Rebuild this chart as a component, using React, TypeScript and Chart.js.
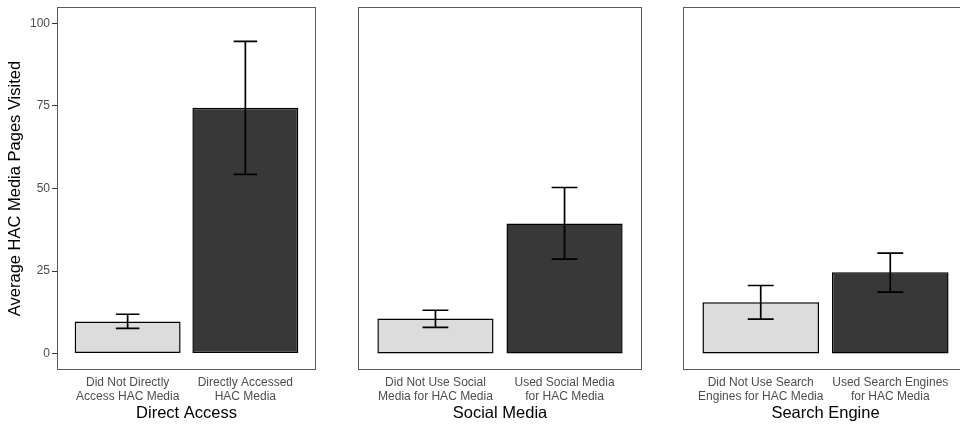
import React, { useEffect, useRef } from "react";
import { Chart, registerables } from "chart.js";

Chart.register(...registerables);

// Facet titles and two-line category labels
const facetTitles = ["Direct Access", "Social Media", "Search Engine"];
const directLabels = [["Did Not Directly", "Access HAC Media"], ["Directly Accessed", "HAC Media"]];
const socialLabels = [["Did Not Use Social", "Media for HAC Media"], ["Used Social Media", "for HAC Media"]];
const searchLabels = [["Did Not Use Search", "Engines for HAC Media"], ["Used Search Engines", "for HAC Media"]];

// Mean pages visited with error-bar bounds
const directMeans = [9.7, 74.5];
const directLower = [7.6, 54.3];
const directUpper = [11.9, 94.6];

const socialMeans = [10.6, 39.4];
const socialLower = [7.9, 28.6];
const socialUpper = [13.1, 50.3];

const searchMeans = [15.5, 24.6];
const searchLower = [10.4, 18.6];
const searchUpper = [20.6, 30.4];

const yTicks = [0, 25, 50, 75, 100];
const yTitle = "Average HAC Media Pages Visited";

const FONT = "'Liberation Sans', Arial, Helvetica, sans-serif";
const barColors = ["#DCDCDC", "#383838"];

type PanelProps = {
  left: number;
  width: number;
  padLeft: number;
  padRight: number;
  showY: boolean;
  labels: string[][];
  means: number[];
  lower: number[];
  upper: number[];
  title: string;
};

const panelBorder = {
  id: "panelBorder",
  afterDraw(chart: any) {
    const { ctx, chartArea } = chart;
    ctx.save();
    ctx.strokeStyle = "#5a5a5a";
    ctx.lineWidth = 1;
    ctx.strokeRect(
      Math.round(chartArea.left) + 0.5,
      Math.round(chartArea.top) + 0.5,
      Math.round(chartArea.right - chartArea.left) - 1,
      Math.round(chartArea.bottom - chartArea.top) - 1
    );
    ctx.restore();
  },
};

function makeErrorBars(lower: number[], upper: number[]) {
  return {
    id: "errorBars",
    afterDatasetsDraw(chart: any) {
      const { ctx, scales } = chart;
      const xs = scales.x;
      const ys = scales.y;
      const half = xs.getPixelForValue(1.1) - xs.getPixelForValue(1);
      ctx.save();
      ctx.strokeStyle = "#000";
      ctx.lineWidth = 1.7;
      for (let i = 0; i < lower.length; i++) {
        const x = xs.getPixelForValue(i + 1);
        const yl = ys.getPixelForValue(lower[i]);
        const yu = ys.getPixelForValue(upper[i]);
        ctx.beginPath();
        ctx.moveTo(x, yl);
        ctx.lineTo(x, yu);
        ctx.moveTo(x - half, yu);
        ctx.lineTo(x + half, yu);
        ctx.moveTo(x - half, yl);
        ctx.lineTo(x + half, yl);
        ctx.stroke();
      }
      ctx.restore();
    },
  };
}

function Panel(p: PanelProps) {
  const ref = useRef<HTMLCanvasElement | null>(null);
  useEffect(() => {
    if (!ref.current) return;
    const chart = new Chart(ref.current, {
      type: "bar",
      data: {
        datasets: [
          {
            data: p.means.map((m, i) => ({ x: i + 1, y: m })),
            backgroundColor: barColors,
            borderColor: "#000",
            borderWidth: 1.5,
            borderSkipped: false,
            categoryPercentage: 1,
            barPercentage: 0.9,
          },
        ],
      },
      options: {
        animation: false,
        responsive: false,
        devicePixelRatio: 1,
        layout: { padding: { left: p.padLeft, right: p.padRight, top: 7, bottom: 0 } },
        plugins: { legend: { display: false }, tooltip: { enabled: false } },
        scales: {
          x: {
            type: "linear",
            offset: false,
            min: 0.4,
            max: 2.6,
            afterBuildTicks: (s: any) => {
              s.ticks = [{ value: 1 }, { value: 2 }];
            },
            afterFit: (s: any) => {
              s.height = 57;
              s.paddingLeft = 0;
              s.paddingRight = 0;
            },
            grid: { display: false, drawTicks: false, offset: false },
            border: { display: false },
            ticks: {
              autoSkip: false,
              maxRotation: 0,
              minRotation: 0,
              padding: 6,
              color: "#4D4D4D",
              font: { family: FONT, size: 12, lineHeight: 1.17 },
              callback: (v: any) => p.labels[Number(v) - 1] ?? "",
            },
            title: {
              display: true,
              text: p.title,
              color: "#000",
              font: { family: FONT, size: 16.5, lineHeight: 1.2 },
              padding: { top: 0, bottom: 4 },
            },
          },
          y: {
            type: "linear",
            display: p.showY,
            min: -5,
            max: 105,
            afterBuildTicks: (s: any) => {
              s.ticks = yTicks.map((v) => ({ value: v }));
            },
            afterFit: (s: any) => {
              if (p.showY) s.width = 57;
              s.paddingTop = 0;
              s.paddingBottom = 0;
            },
            grid: {
              drawOnChartArea: false,
              drawTicks: true,
              tickLength: 5,
              color: "#333",
              lineWidth: 1,
            },
            border: { display: false },
            ticks: {
              padding: 2,
              color: "#4D4D4D",
              font: { family: FONT, size: 12 },
            },
            title: {
              display: p.showY,
              text: yTitle,
              color: "#000",
              font: { family: FONT, size: 16.5, lineHeight: 1.2 },
              padding: { top: 6, bottom: 0 },
            },
          },
        },
      },
      plugins: [panelBorder, makeErrorBars(p.lower, p.upper)],
    } as any);
    return () => chart.destroy();
  }, []);
  return (
    <div style={{ position: "absolute", left: p.left, top: 0, width: p.width, height: 427 }}>
      <canvas ref={ref} width={p.width} height={427} style={{ display: "block" }} />
    </div>
  );
}

export default function App() {
  return (
    <div
      style={{
        position: "fixed",
        left: 0,
        top: 0,
        width: 960,
        height: 427,
        overflow: "hidden",
        background: "#fff",
      }}
    >
      <Panel left={0} width={330} padLeft={0} padRight={14} showY={true}
        labels={directLabels} means={directMeans} lower={directLower} upper={directUpper} title={facetTitles[0]} />
      <Panel left={330} width={330} padLeft={28} padRight={18} showY={false}
        labels={socialLabels} means={socialMeans} lower={socialLower} upper={socialUpper} title={facetTitles[1]} />
      <Panel left={660} width={310} padLeft={23} padRight={2} showY={false}
        labels={searchLabels} means={searchMeans} lower={searchLower} upper={searchUpper} title={facetTitles[2]} />
    </div>
  );
}
